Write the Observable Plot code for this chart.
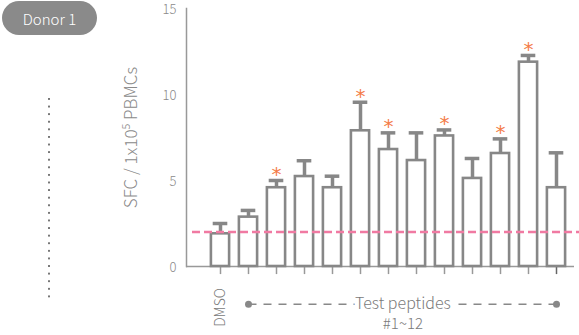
<!DOCTYPE html>
<html>
<head>
<meta charset="utf-8">
<script src="https://cdn.jsdelivr.net/npm/d3@7"></script>
<script src="https://cdn.jsdelivr.net/npm/@observablehq/plot@0.6"></script>
<style>
  html, body { margin: 0; padding: 0; background: #fff; }
  #wrap { position: relative; width: 579px; height: 335px; overflow: hidden; font-family: "Noto Sans CJK KR", "Noto Sans", sans-serif; }
  #pill { position: absolute; left: 2px; top: 1px; width: 95px; height: 34px; border-radius: 17px; background: #8a8a8a; color: #fff; font-size: 15px; font-weight: 300; display: flex; align-items: center; justify-content: center; }
  #dots { position: absolute; left: 48px; top: 98px; width: 2px; height: 200px; background-image: linear-gradient(#777 2px, transparent 2px); background-size: 2px 7.6px; }
  #chart { position: absolute; left: 0; top: 0; }
  #chart svg [aria-label="y-axis label"] { font-size: 17px; }
</style>
</head>
<body>
<div id="wrap">
  <div id="pill">Donor 1</div>
  <div id="dots"></div>
  <div id="chart"></div>
</div>
<script>
const categories = ["DMSO", "#1", "#2", "#3", "#4", "#5", "#6", "#7", "#8", "#9", "#10", "#11", "#12"];
const means = [1.9, 2.87, 4.58, 5.23, 4.58, 7.89, 6.80, 6.16, 7.59, 5.12, 6.57, 11.88, 4.58];
const upper = [2.5, 3.26, 5.0, 6.15, 5.25, 9.55, 7.77, 7.77, 7.94, 6.28, 7.42, 12.27, 6.61];
const significant = [false, false, true, false, false, true, true, false, true, false, true, true, false];
const threshold = 2.0;
const yTicks = [0, 5, 10, 15];
const yLabel = "SFC / 1x10\u2075 PBMCs";
const groupLabel = "Test peptides";
const groupRange = "#1~12";

const data = categories.map((c, i) => ({cat: c, value: means[i], err: upper[i], sig: significant[i]}));
const gray = "#878787";
const textGray = "#7a7a7a";
const font = "'Noto Sans CJK KR', 'Noto Sans', sans-serif";
const midCat = categories[6];

const chart = Plot.plot({
  width: 579,
  height: 335,
  marginLeft: 186,
  marginRight: 0,
  marginTop: 8,
  marginBottom: 69,
  style: {fontFamily: font, fontWeight: 300, background: "transparent", overflow: "visible"},
  x: {type: "band", domain: categories, range: [200.6, 575.4], padding: 0, axis: null},
  y: {domain: [0, 15], axis: null},
  marks: [
    Plot.frame({anchor: "left", stroke: "#999", strokeWidth: 1.5}),
    Plot.ruleY([0], {stroke: "#999", strokeWidth: 1.5, insetRight: 5}),
    Plot.ruleX(categories, {x: d => d, y1: 0, y2: -0.47, stroke: (d, i) => i === categories.length - 1 ? "#666" : "#999", strokeWidth: 1.5}),
    Plot.axisY({ticks: yTicks, tickSize: 0, tickPadding: 10, fontSize: 13, dy: 1, color: "#8a8a8a", label: yLabel, labelAnchor: "center", labelOffset: 62, labelArrow: "none"}),
    Plot.ruleX(data, {x: "cat", y1: "value", y2: "err", stroke: gray, strokeWidth: 3.5}),
    Plot.tickY(data, {x: "cat", y: "err", stroke: gray, strokeWidth: 3.5, insetLeft: 6.7, insetRight: 6.7}),
    Plot.barY(data, {x: "cat", y: "value", fill: "white", stroke: gray, strokeWidth: 2.6, insetLeft: 4.9, insetRight: 4.9}),
    Plot.ruleY([threshold], {stroke: "#f07aa2", strokeWidth: 2.5, strokeDasharray: "8,4", insetLeft: 6}),
    Plot.text(data.filter(d => d.sig), {x: "cat", y: "err", text: () => "*", dy: -6, fill: "#f47c48", fontSize: 20, fontWeight: 400, fontFamily: "DejaVu Sans"}),
    Plot.text(["DMSO"], {x: d => d, y: () => -2.38, text: d => d, rotate: -90, fontSize: 14, fill: textGray}),
    Plot.link([{a: categories[1], b: categories[12]}], {x1: "a", x2: "b", y1: () => -2.2, y2: () => -2.2, stroke: "#888", strokeWidth: 1.5, strokeDasharray: "8,7"}),
    Plot.dot([categories[1], categories[12]], {x: d => d, y: () => -2.2, r: 3.5, fill: "#888"}),
    Plot.text([groupLabel], {x: () => midCat, y: () => -2.15, text: d => d, dx: 14.4, fontSize: 16, fill: textGray, stroke: "white", strokeWidth: 9}),
    Plot.text([groupRange], {x: () => midCat, y: () => -3.33, text: d => d, dx: 14.4, fontSize: 15, fill: textGray})
  ]
});
document.getElementById("chart").appendChild(chart);
</script>
</body>
</html>
